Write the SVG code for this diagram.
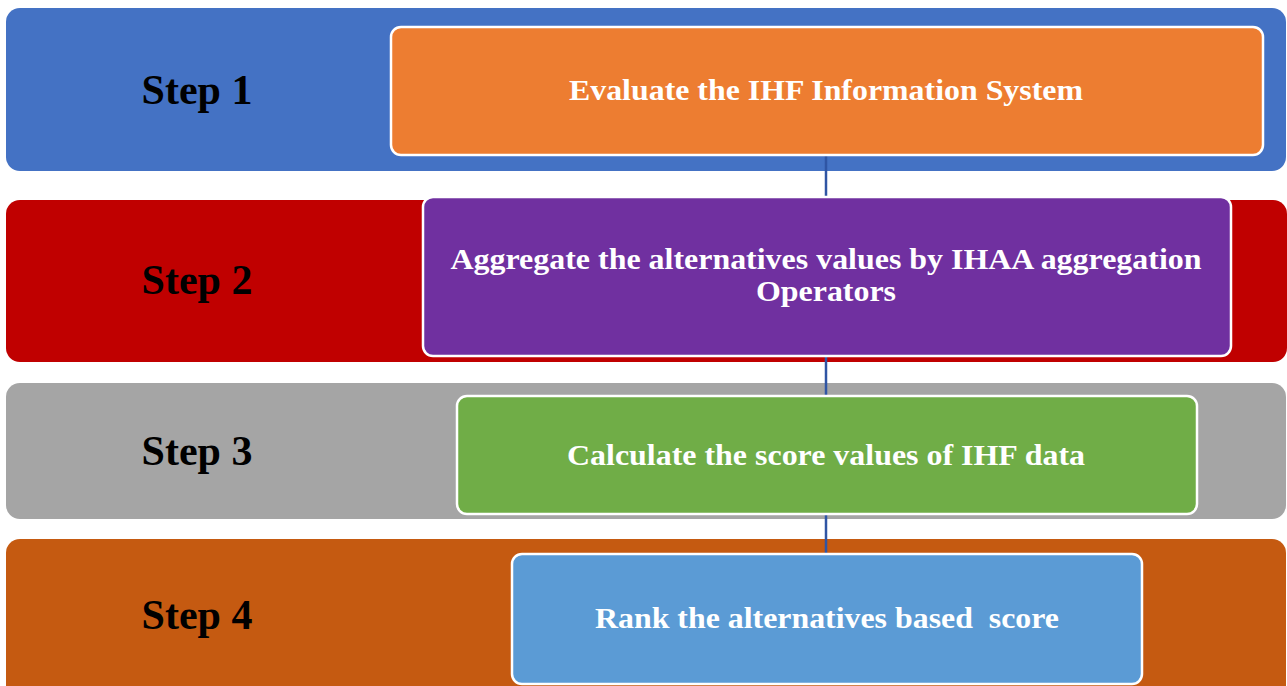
<svg xmlns="http://www.w3.org/2000/svg" width="1287" height="686" viewBox="0 0 1287 686">
  <style>
    .band { stroke: none; }
    .box { stroke: #ffffff; stroke-width: 2.5; }
    .step { font-family: "Liberation Serif", "Times New Roman", serif; font-weight: bold; font-size: 42px; fill: #000000; text-anchor: middle; }
    .lbl { font-family: "Liberation Serif", "Times New Roman", serif; font-weight: bold; font-size: 30px; fill: #ffffff; text-anchor: middle; }
    .conn { stroke: #2F55A4; stroke-width: 2.5; fill: none; }
  </style>
  <rect width="1287" height="686" fill="#ffffff"/>

  <g id="step1">
    <rect class="band" x="6" y="8" width="1280" height="163" rx="14" fill="#4472C4"/>
    <text class="step" x="197" y="104">Step 1</text>
  </g>
  <g id="step2">
    <rect class="band" x="6" y="200" width="1281" height="162" rx="14" fill="#C00000"/>
    <text class="step" x="197" y="294">Step 2</text>
  </g>
  <g id="step3">
    <rect class="band" x="6" y="383" width="1280" height="136" rx="14" fill="#A5A5A5"/>
    <text class="step" x="197" y="465">Step 3</text>
  </g>
  <g id="step4">
    <rect class="band" x="6" y="539" width="1280" height="160" rx="14" fill="#C55A11"/>
    <text class="step" x="197" y="629">Step 4</text>
  </g>

  <g id="connectors">
    <line class="conn" x1="826" y1="155" x2="826" y2="197"/>
    <line class="conn" x1="826" y1="356" x2="826" y2="395"/>
    <line class="conn" x1="826" y1="514" x2="826" y2="553"/>
  </g>

  <g id="evaluate">
    <rect class="box" x="391" y="27" width="872" height="128" rx="10" fill="#ED7D31"/>
    <text class="lbl" x="826" y="100" textLength="514" lengthAdjust="spacingAndGlyphs">Evaluate the IHF Information System</text>
  </g>
  <g id="aggregate">
    <rect class="box" x="423" y="197" width="808" height="159" rx="10" fill="#7030A0"/>
    <text class="lbl" x="826" y="269" textLength="751" lengthAdjust="spacingAndGlyphs">Aggregate the alternatives values by IHAA aggregation</text>
    <text class="lbl" x="826" y="301" textLength="140" lengthAdjust="spacingAndGlyphs">Operators</text>
  </g>
  <g id="calculate">
    <rect class="box" x="457" y="396" width="740" height="118" rx="10" fill="#70AD47"/>
    <text class="lbl" x="826" y="465" textLength="518" lengthAdjust="spacingAndGlyphs">Calculate the score values of IHF data</text>
  </g>
  <g id="rank">
    <rect class="box" x="512" y="554" width="630" height="130" rx="10" fill="#5B9BD5"/>
    <text class="lbl" x="827" y="628" textLength="464" lengthAdjust="spacingAndGlyphs" xml:space="preserve">Rank the alternatives based  score</text>
  </g>
</svg>
